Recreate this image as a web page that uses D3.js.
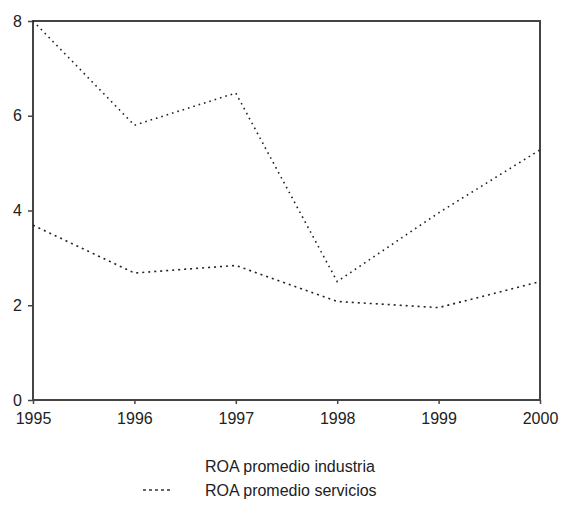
<!DOCTYPE html>
<html>
<head>
<meta charset="UTF-8">
<script src="https://d3js.org/d3.v7.min.js"></script>
<style>
	body { margin: 0; background: #fff; }
	text { font-family: "Liberation Sans", Arial, sans-serif; fill: #222; }
</style>
</head>
<body>
<div id="chart"></div>
<script>
	// data
	let years = [1995, 1996, 1997, 1998, 1999, 2000];
	let industria = [8.0, 5.8, 6.48, 2.5, 3.95, 5.28];
	let servicios = [3.69, 2.68, 2.84, 2.08, 1.95, 2.5];
	let yTicks = [0, 2, 4, 6, 8];
	let seriesNames = ["ROA promedio industria", "ROA promedio servicios"];

	let width = 566;
	let height = 506;
	let margin = { left: 33, top: 21, right: 26, bottom: 106 };

	let svg = d3.select("#chart").append("svg")
		.attr("width", width)
		.attr("height", height);

	let x = d3.scaleLinear()
		.domain([1995, 2000])
		.range([margin.left, width - margin.right]);
	let y = d3.scaleLinear()
		.domain([0, 8])
		.range([height - margin.bottom, margin.top]);

	// frame
	svg.append("rect")
		.attr("x", x(1995))
		.attr("y", y(8))
		.attr("width", x(2000) - x(1995))
		.attr("height", y(0) - y(8))
		.attr("fill", "none")
		.attr("stroke", "#444")
		.attr("stroke-width", 2);

	// y axis
	let yAxis = svg.append("g")
		.attr("transform", `translate(${x(1995)},0)`)
		.call(d3.axisLeft(y).tickValues(yTicks).tickSize(5).tickPadding(6).tickFormat(d3.format("d")));
	yAxis.select(".domain").remove();
	yAxis.selectAll("line").attr("stroke", "#444").attr("stroke-width", 1.5);
	yAxis.selectAll("text").style("font-size", "16px").attr("fill", "#222");

	// x axis
	let xAxis = svg.append("g")
		.attr("transform", `translate(0,${y(0)})`)
		.call(d3.axisBottom(x).tickValues(years).tickSize(4).tickPadding(9).tickFormat(d3.format("d")));
	xAxis.select(".domain").remove();
	xAxis.selectAll("line").attr("stroke", "#444").attr("stroke-width", 1.5);
	xAxis.selectAll("text").style("font-size", "16px").attr("fill", "#222");

	let line = d3.line()
		.x((d, i) => x(years[i]))
		.y(d => y(d));

	svg.append("path")
		.datum(industria)
		.attr("d", line)
		.attr("fill", "none")
		.attr("stroke", "#222")
		.attr("stroke-width", 1.6)
		.attr("stroke-dasharray", "1.6,4");

	svg.append("path")
		.datum(servicios)
		.attr("d", line)
		.attr("fill", "none")
		.attr("stroke", "#222")
		.attr("stroke-width", 1.6)
		.attr("stroke-dasharray", "2,4");

	// legend
	let legend = svg.append("g");
	legend.selectAll("text")
		.data(seriesNames)
		.join("text")
		.attr("x", 205)
		.attr("y", (d, i) => 472 + i * 24)
		.style("font-size", "16px")
		.text(d => d);

	legend.append("line")
		.attr("x1", 143)
		.attr("x2", 172)
		.attr("y1", 490)
		.attr("y2", 490)
		.attr("stroke", "#333")
		.attr("stroke-width", 1.4)
		.attr("stroke-dasharray", "3,3");
</script>
</body>
</html>
